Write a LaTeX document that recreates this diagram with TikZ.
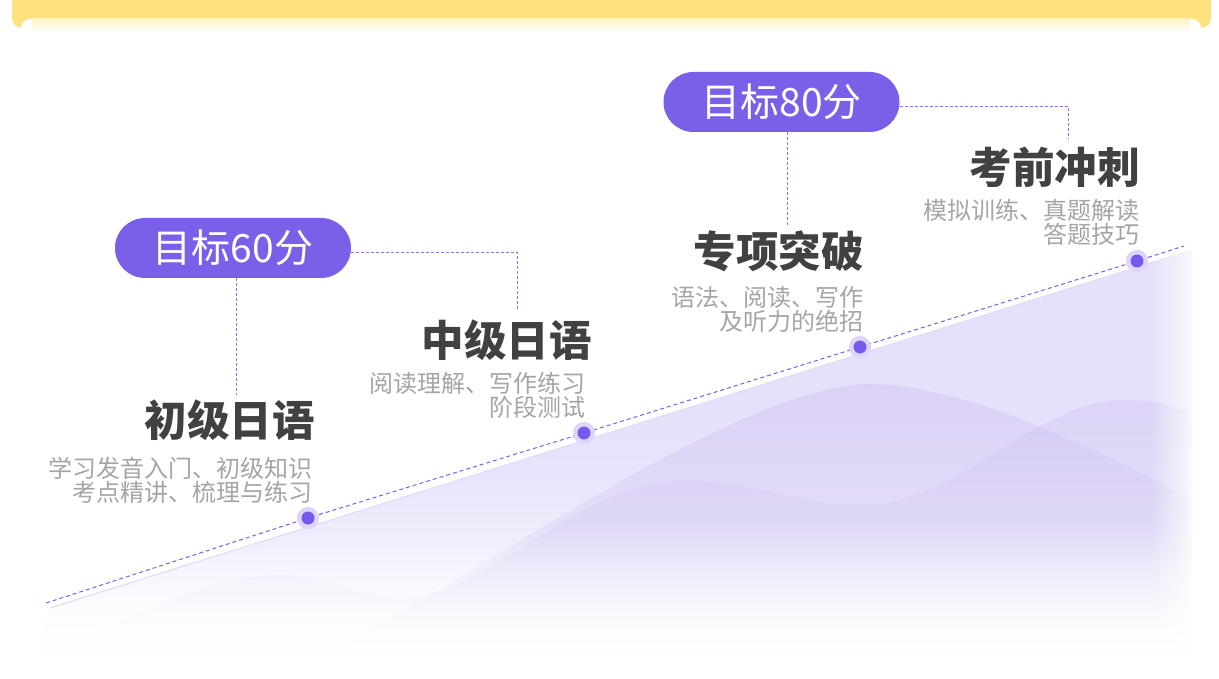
\documentclass[tikz,border=0pt]{standalone}
\usepackage{fontspec}
\newfontfamily\cjk{Noto Sans CJK SC}
\usetikzlibrary{fadings}
\definecolor{pillc}{HTML}{7B5FE9}
\definecolor{dashc}{HTML}{8C73EE}
\definecolor{linec}{HTML}{7D5CF0}
\definecolor{dotc}{HTML}{7857EE}
\definecolor{haloc}{HTML}{DDD6FA}
\definecolor{areac}{HTML}{E6E0FA}
\definecolor{wavec}{HTML}{D2C6F4}
\definecolor{edgec}{HTML}{E2DCF6}
\definecolor{titlec}{HTML}{414141}
\definecolor{subc}{HTML}{A5A5A5}
\definecolor{yel}{HTML}{FFE27D}
\definecolor{yelshadow}{HTML}{FFF2C6}
\pgfdeclareverticalshading{areash}{100bp}{color(0bp)=(white); color(28bp)=(white);
  color(36bp)=(areac!40!white); color(48bp)=(areac!85!white); color(56bp)=(areac); color(100bp)=(areac)}
\tikzfading[name=wfade, top color=transparent!0, middle color=transparent!65, bottom color=transparent!100]
\begin{document}
\begin{tikzpicture}[x=1pt,y=-1pt,
  pill/.style={fill=pillc, text=white, rounded corners=30pt, minimum width=236pt,
    minimum height=60pt, inner sep=0pt, font=\cjk\fontsize{39}{41}\selectfont},
  title/.style={text=titlec, inner sep=0pt, font=\cjk\bfseries\fontsize{42.5}{46}\selectfont},
  sub/.style={text=subc, inner sep=0pt, align=right, font=\cjk\fontsize{24}{24}\selectfont},
  conn/.style={draw=dashc, line width=0.8pt, dash pattern=on 3pt off 2pt},
  diag/.style={draw=linec, line width=1pt, dash pattern=on 4pt off 3pt},
  halo/.style={circle, fill=haloc, minimum size=22pt, inner sep=0pt},
  wave/.style={fill=wavec, path fading=wfade},
]
\useasboundingbox (0,0) rectangle (1219,679);
\fill[white] (0,0) rectangle (1219,679);
% top yellow band
\fill[yel, rounded corners=10pt] (12,-15) rectangle (1211,28);
\fill[white, rounded corners=9pt] (21,19) rectangle (1201,720);
\shade[top color=yelshadow, bottom color=white] (32,19) rectangle (1190,32);
% lavender area
\shade[shading=areash] (50,608) -- (1192,250) -- (1192,679) -- (30,679) -- cycle;
\begin{scope}
  \clip (50,608) -- (1192,250) -- (1192,679) -- (30,679) -- cycle;
  \fill[wave, fill opacity=0.55]
    (290,670) .. controls (450,600) and (720,390) .. (868,384)
    .. controls (960,384) and (1080,440) .. (1192,500) -- (1192,679) -- (290,679) -- cycle;
  \fill[wave, fill opacity=0.45]
    (50,655) .. controls (160,600) and (240,570) .. (295,576)
    .. controls (350,582) and (360,600) .. (410,597)
    .. controls (500,590) and (580,478) .. (692,481)
    .. controls (770,483) and (800,506) .. (868,505)
    .. controls (960,503) and (1040,400) .. (1125,400)
    .. controls (1160,400) and (1180,408) .. (1192,412)
    -- (1192,679) -- (50,679) -- cycle;
  \fill[white, path fading=north] (20,530) rectangle (1200,656);
  \fill[white] (20,655) rectangle (1200,679);
\end{scope}
\draw[edgec, line width=1.2pt] (50,608) -- (1192,250);
\fill[white, path fading=west] (1150,230) rectangle (1203,679);
\fill[white] (1202,230) rectangle (1219,679);
% dots and diagonal
\coordinate (lstart) at (46,603);
\coordinate (lend) at (1184,246);
\node[halo] (d1) at (308,518) {};
\node[halo] (d2) at (584,433) {};
\node[halo] (d3) at (860,347) {};
\node[halo] (d4) at (1137,261) {};
\draw[diag] (lstart) -- (d1.center) -- (d2.center) -- (d3.center) -- (d4.center) -- (lend);
\foreach \d in {d1,d2,d3,d4} {
  \fill[haloc] (\d) circle (11);
  \fill[dotc] (\d) circle (6.5);
}
% pills
\node[pill] (p1) at (233,248) {目标60分};
\node[pill] (p2) at (781.5,102) {目标80分};
\coordinate (c1) at (517,310);
\coordinate (c2) at (236,395);
\coordinate (c3) at (1068,138);
\coordinate (c4) at (787.5,225);
\draw[conn] ([yshift=-4pt]p1.east) -| (c1);
\draw[conn] ([xshift=3pt]p1.south) -- (c2);
\draw[conn] ([yshift=-4pt]p2.east) -| (c3);
\draw[conn] ([xshift=6pt]p2.south) -- (c4);
% titles
\node[title, anchor=east] (t1) at (315,420) {初级日语};
\node[title, anchor=east] (t2) at (592,340) {中级日语};
\node[title, anchor=east] (t3) at (864,251) {专项突破};
\node[title, anchor=east] (t4) at (1140,167) {考前冲刺};
% subtitles
\node[sub, anchor=east] (s1) at (313,480) {学习发音入门、初级知识\\考点精讲、梳理与练习};
\node[sub, anchor=east] (s2) at (586,395) {阅读理解、写作练习\\阶段测试};
\node[sub, anchor=east] (s3) at (864,309) {语法、阅读、写作\\及听力的绝招};
\node[sub, anchor=east] (s4) at (1140,222) {模拟训练、真题解读\\答题技巧};
\end{tikzpicture}
\end{document}
